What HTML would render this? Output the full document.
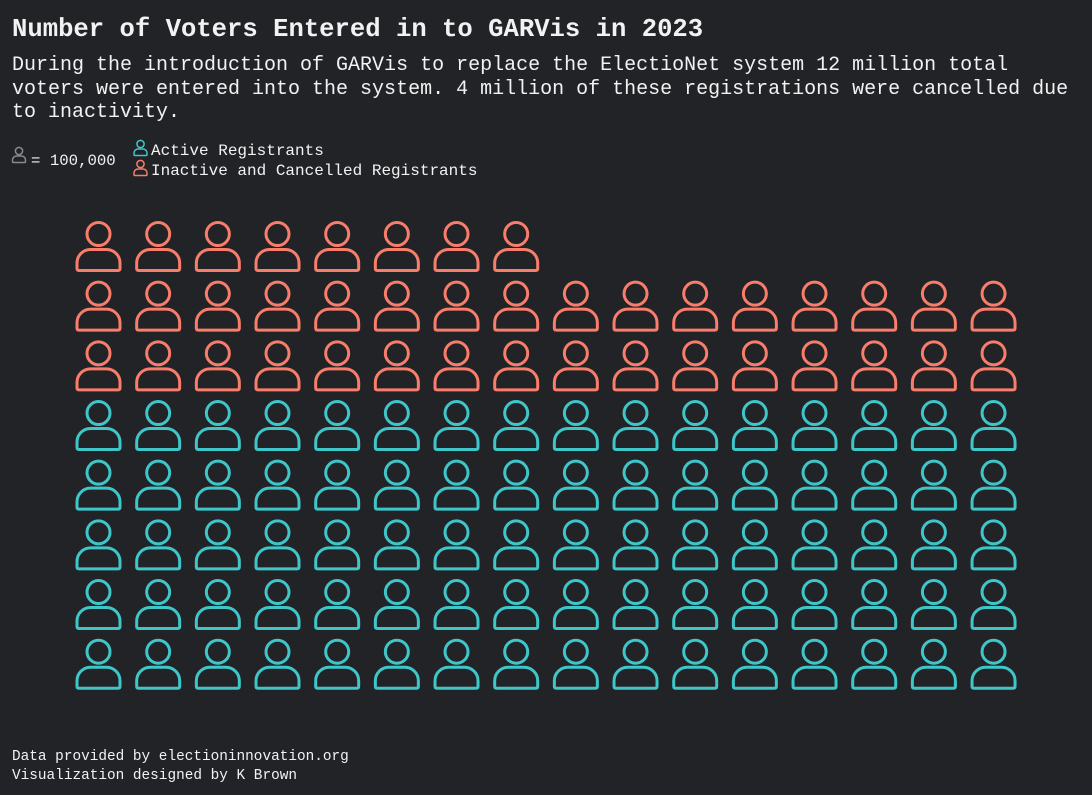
<!DOCTYPE html>
<html><head><meta charset="utf-8"><style>
html,body{margin:0;padding:0;background:#222327;}
svg{display:block;}
text{font-family:"Liberation Mono",monospace;fill:#f2f2f2;}
</style></head><body>
<svg width="1092" height="795" viewBox="0 0 1092 795" xmlns="http://www.w3.org/2000/svg">
<rect width="1092" height="795" fill="#222327"/>
<defs>
<g id="p" fill="none" stroke-width="3">
<circle cx="0" cy="0" r="11.5"/>
<path d="M-21.5,34.5 V29 A13.5,13.5 0 0 1 -8,15.5 H8 A13.5,13.5 0 0 1 21.5,29 V34.5 Q21.5,36.5 19.5,36.5 H-19.5 Q-21.5,36.5 -21.5,34.5 Z"/>
</g>
<g id="r8">
<use href="#p" x="0"/><use href="#p" x="59.67"/><use href="#p" x="119.34"/><use href="#p" x="179.01"/>
<use href="#p" x="238.68"/><use href="#p" x="298.35"/><use href="#p" x="358.02"/><use href="#p" x="417.69"/>
</g>
<g id="r16"><use href="#r8" x="0"/><use href="#r8" x="477.36"/></g>
<g id="sp" fill="none" stroke-width="1.5">
<circle cx="0" cy="0" r="3.6"/>
<path d="M-6.5,10.5 V9 A4,4 0 0 1 -2.5,5 H2.5 A4,4 0 0 1 6.5,9 V10.5 Q6.5,11.5 5.5,11.5 H-5.5 Q-6.5,11.5 -6.5,10.5 Z"/>
</g>
</defs>
<text x="12" y="36" font-size="25.6" font-weight="bold">Number of Voters Entered in to GARVis in 2023</text>
<text x="12" y="70" font-size="20">During the introduction of GARVis to replace the ElectioNet system 12 million total</text>
<text x="12" y="94" font-size="20">voters were entered into the system. 4 million of these registrations were cancelled due</text>
<text x="12" y="117" font-size="20">to inactivity.</text>
<use href="#sp" x="19" y="151" stroke="#8a8a8a"/>
<text x="31" y="165" font-size="15.7">= 100,000</text>
<use href="#sp" x="140.5" y="144" stroke="#3ec6c9"/>
<use href="#sp" x="140.5" y="164" stroke="#f87d6b"/>
<text x="151" y="155" font-size="16">Active Registrants</text>
<text x="151" y="175" font-size="16">Inactive and Cancelled Registrants</text>
<g stroke="#f87d6b" transform="translate(98.5,0)">
<use href="#r8" y="234"/>
<use href="#r16" y="293.67"/>
<use href="#r16" y="353.34"/>
</g>
<g stroke="#3ec6c9" transform="translate(98.5,0)">
<use href="#r16" y="413.01"/>
<use href="#r16" y="472.68"/>
<use href="#r16" y="532.35"/>
<use href="#r16" y="592.02"/>
<use href="#r16" y="651.69"/>
</g>
<text x="12" y="760" font-size="14.4">Data provided by electioninnovation.org</text>
<text x="12" y="779" font-size="14.4">Visualization designed by K Brown</text>
</svg>
</body></html>
